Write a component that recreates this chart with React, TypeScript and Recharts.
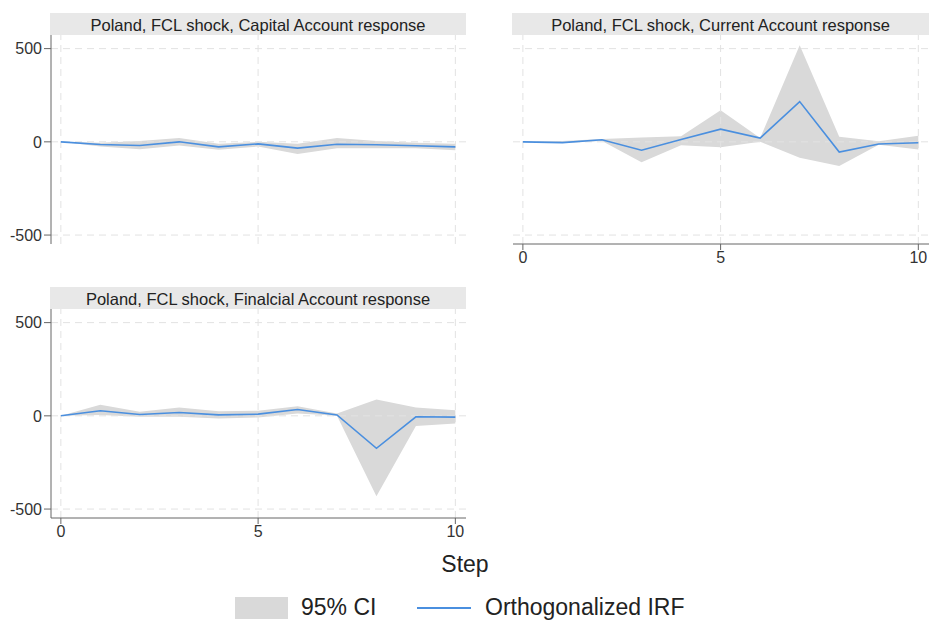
import React from "react";
import {
  ComposedChart,
  Area,
  Line,
  XAxis,
  YAxis,
  ReferenceLine,
} from "recharts";

// Impulse-response horizon
const steps = [0, 1, 2, 3, 4, 5, 6, 7, 8, 9, 10];
const xTicks = [0, 5, 10];
const yTicks = [-500, 0, 500];

// Capital Account response to an FCL shock
const capitalIrf = [0, -14, -20, 0, -27, -11, -34, -13, -16, -21, -27];
const capitalLo = [0, -25, -40, -20, -42, -25, -65, -35, -35, -35, -45];
const capitalHi = [0, -5, 5, 20, -10, 0, -10, 20, 5, -5, -10];

// Current Account response to an FCL shock
const currentIrf = [0, -4, 11, -45, 12, 68, 20, 216, -55, -12, -5];
const currentLo = [0, -6, 5, -110, -18, -29, 0, -85, -130, -16, -41];
const currentHi = [0, 5, 15, 23, 30, 170, 20, 518, 27, 3, 32];

// Financial Account response to an FCL shock
const financialIrf = [0, 27, 7, 18, 5, 9, 34, 5, -174, -5, -7];
const financialLo = [0, 4, -5, -5, -14, -9, 12, 0, -432, -54, -41];
const financialHi = [0, 59, 22, 45, 25, 27, 52, 12, 88, 45, 30];

const FONT = "'Liberation Sans', Arial, sans-serif";
const CI_FILL = "#d9d9d9";
const IRF_BLUE = "#4a8fdf";
const AXIS = "#666666";
const GRID = "#e2e2e2";

type PanelProps = {
  title: string;
  irf: number[];
  lo: number[];
  hi: number[];
  left: number;
  top: number;
  width: number;
  showY: boolean;
  showX: boolean;
};

const PLOT_H = 209;
const X_AXIS_H = 30;
const Y_AXIS_W = 51;

function Panel({ title, irf, lo, hi, left, top, width, showY, showX }: PanelProps) {
  const data = steps.map((s, i) => ({ step: s, irf: irf[i], ci: [lo[i], hi[i]] }));
  const plotLeft = left + (showY ? Y_AXIS_W : 0);
  const height = PLOT_H + (showX ? X_AXIS_H : 0);
  return (
    <>
      <div
        style={{
          position: "absolute",
          left: plotLeft - 1,
          top: top - 22,
          width: left + width - plotLeft + 1,
          height: 22,
          background: "#e8e8e8",
          color: "#222",
          fontSize: 16.5,
          lineHeight: "25px",
          textAlign: "center",
          whiteSpace: "nowrap",
          overflow: "hidden",
        }}
      >
        {title}
      </div>
      <div style={{ position: "absolute", left, top }}>
        <ComposedChart
          width={width}
          height={height}
          data={data}
          margin={{ top: 0, right: 0, bottom: 0, left: 0 }}
          style={{ overflow: "visible" }}
        >
          <XAxis
            dataKey="step"
            type="number"
            domain={[-0.25, 10.27]}
            ticks={xTicks}
            interval={0}
            allowDataOverflow
            hide={!showX}
            height={X_AXIS_H}
            stroke={AXIS}
            tickSize={6}
            tick={{ fill: "#333", fontSize: 16, fontFamily: FONT }}
          />
          <YAxis
            type="number"
            domain={[-548, 573]}
            ticks={yTicks}
            interval={0}
            allowDataOverflow
            hide={!showY}
            width={Y_AXIS_W}
            stroke={AXIS}
            tickSize={7}
            tick={{ fill: "#333", fontSize: 16, fontFamily: FONT }}
          />
          {yTicks.map((v) => (
            <ReferenceLine key={"h" + v} y={v} stroke={GRID} strokeDasharray="7 5" />
          ))}
          {xTicks.map((v) => (
            <ReferenceLine key={"v" + v} x={v} stroke={GRID} strokeDasharray="7 5" />
          ))}
          <Area
            dataKey="ci"
            type="linear"
            fill={CI_FILL}
            fillOpacity={1}
            stroke="none"
            isAnimationActive={false}
          />
          <Line
            dataKey="irf"
            type="linear"
            stroke={IRF_BLUE}
            strokeWidth={1.6}
            dot={false}
            isAnimationActive={false}
          />
        </ComposedChart>
      </div>
    </>
  );
}

export default function App() {
  return (
    <div
      style={{
        position: "absolute",
        left: 0,
        top: 0,
        width: 929,
        height: 621,
        background: "#ffffff",
        fontFamily: FONT,
        overflow: "hidden",
      }}
    >
      <Panel
        title="Poland, FCL shock, Capital Account response"
        irf={capitalIrf}
        lo={capitalLo}
        hi={capitalHi}
        left={0}
        top={35}
        width={466}
        showY
        showX={false}
      />
      <Panel
        title="Poland, FCL shock, Current Account response"
        irf={currentIrf}
        lo={currentLo}
        hi={currentHi}
        left={513}
        top={35}
        width={416}
        showY={false}
        showX
      />
      <Panel
        title="Poland, FCL shock, Finalcial Account response"
        irf={financialIrf}
        lo={financialLo}
        hi={financialHi}
        left={0}
        top={309}
        width={466}
        showY
        showX
      />
      <div
        style={{
          position: "absolute",
          left: 415,
          top: 551,
          width: 100,
          textAlign: "center",
          fontSize: 23,
          color: "#222",
        }}
      >
        Step
      </div>
      <div
        style={{
          position: "absolute",
          left: 235,
          top: 597,
          width: 53,
          height: 22,
          background: CI_FILL,
        }}
      />
      <div
        style={{
          position: "absolute",
          left: 301,
          top: 594,
          fontSize: 23,
          color: "#222",
          whiteSpace: "nowrap",
        }}
      >
        95% CI
      </div>
      <div
        style={{
          position: "absolute",
          left: 417,
          top: 607,
          width: 54,
          height: 2,
          background: IRF_BLUE,
        }}
      />
      <div
        style={{
          position: "absolute",
          left: 485,
          top: 594,
          fontSize: 23,
          color: "#222",
          whiteSpace: "nowrap",
        }}
      >
        Orthogonalized IRF
      </div>
    </div>
  );
}
